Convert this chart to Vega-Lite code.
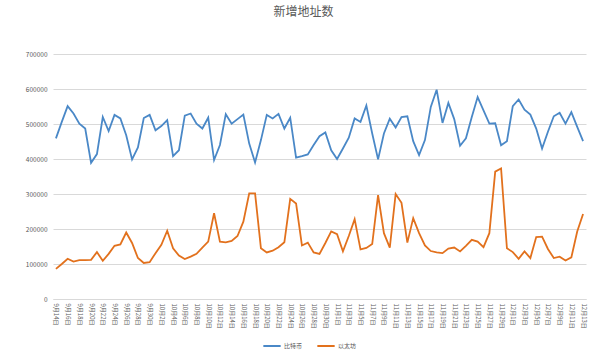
{
  "$schema": "https://vega.github.io/schema/vega-lite/v6.json",
  "autosize": "none",
  "width": 533,
  "height": 245,
  "padding": {"left": 53, "top": 54, "right": 14, "bottom": 57},
  "background": "white",
  "config": {
    "view": {"stroke": null},
    "font": "Noto Sans CJK SC"
  },
  "title": {
    "text": "新增地址数",
    "fontSize": 12,
    "fontWeight": "normal",
    "color": "#595959",
    "font": "Noto Sans CJK SC",
    "anchor": "middle",
    "dx": -16,
    "offset": 32
  },
  "data": {
    "values": [
      {"d":"9月14日","比特币":459000,"以太坊":86000},
      {"d":"9月15日","比特币":506000,"以太坊":100000},
      {"d":"9月16日","比特币":551000,"以太坊":115000},
      {"d":"9月17日","比特币":530000,"以太坊":107000},
      {"d":"9月18日","比特币":501000,"以太坊":111000},
      {"d":"9月19日","比特币":487000,"以太坊":111000},
      {"d":"9月20日","比特币":389000,"以太坊":112000},
      {"d":"9月21日","比特币":414000,"以太坊":134000},
      {"d":"9月22日","比特币":520000,"以太坊":109000},
      {"d":"9月23日","比特币":480000,"以太坊":129000},
      {"d":"9月24日","比特币":526000,"以太坊":152000},
      {"d":"9月25日","比特币":516000,"以太坊":156000},
      {"d":"9月26日","比特币":468000,"以太坊":190000},
      {"d":"9月27日","比特币":399000,"以太坊":160000},
      {"d":"9月28日","比特币":433000,"以太坊":117000},
      {"d":"9月29日","比特币":517000,"以太坊":103000},
      {"d":"9月30日","比特币":526000,"以太坊":105000},
      {"d":"10月1日","比特币":482000,"以太坊":131000},
      {"d":"10月2日","比特币":494000,"以太坊":155000},
      {"d":"10月3日","比特币":511000,"以太坊":195000},
      {"d":"10月4日","比特币":408000,"以太坊":145000},
      {"d":"10月5日","比特币":425000,"以太坊":124000},
      {"d":"10月6日","比特币":524000,"以太坊":114000},
      {"d":"10月7日","比特币":530000,"以太坊":121000},
      {"d":"10月8日","比特币":501000,"以太坊":129000},
      {"d":"10月9日","比特币":487000,"以太坊":147000},
      {"d":"10月10日","比特币":518000,"以太坊":164000},
      {"d":"10月11日","比特币":397000,"以太坊":245000},
      {"d":"10月12日","比特币":440000,"以太坊":164000},
      {"d":"10月13日","比特币":528000,"以太坊":162000},
      {"d":"10月14日","比特币":501000,"以太坊":166000},
      {"d":"10月15日","比特币":514000,"以太坊":180000},
      {"d":"10月16日","比特币":527000,"以太坊":221000},
      {"d":"10月17日","比特币":444000,"以太坊":302000},
      {"d":"10月18日","比特币":390000,"以太坊":302000},
      {"d":"10月19日","比特币":454000,"以太坊":145000},
      {"d":"10月20日","比特币":526000,"以太坊":133000},
      {"d":"10月21日","比特币":516000,"以太坊":138000},
      {"d":"10月22日","比特币":529000,"以太坊":148000},
      {"d":"10月23日","比特币":487000,"以太坊":162000},
      {"d":"10月24日","比特币":518000,"以太坊":286000},
      {"d":"10月25日","比特币":404000,"以太坊":273000},
      {"d":"10月26日","比特币":408000,"以太坊":153000},
      {"d":"10月27日","比特币":413000,"以太坊":161000},
      {"d":"10月28日","比特币":440000,"以太坊":133000},
      {"d":"10月29日","比特币":465000,"以太坊":129000},
      {"d":"10月30日","比特币":476000,"以太坊":160000},
      {"d":"10月31日","比特币":425000,"以太坊":193000},
      {"d":"11月1日","比特币":400000,"以太坊":185000},
      {"d":"11月2日","比特币":430000,"以太坊":136000},
      {"d":"11月3日","比特币":461000,"以太坊":180000},
      {"d":"11月4日","比特币":516000,"以太坊":228000},
      {"d":"11月5日","比特币":506000,"以太坊":142000},
      {"d":"11月6日","比特币":553000,"以太坊":146000},
      {"d":"11月7日","比特币":473000,"以太坊":157000},
      {"d":"11月8日","比特币":399000,"以太坊":297000},
      {"d":"11月9日","比特币":473000,"以太坊":188000},
      {"d":"11月10日","比特币":515000,"以太坊":147000},
      {"d":"11月11日","比特币":490000,"以太坊":300000},
      {"d":"11月12日","比特币":520000,"以太坊":275000},
      {"d":"11月13日","比特币":522000,"以太坊":161000},
      {"d":"11月14日","比特币":451000,"以太坊":231000},
      {"d":"11月15日","比特币":411000,"以太坊":188000},
      {"d":"11月16日","比特币":454000,"以太坊":153000},
      {"d":"11月17日","比特币":549000,"以太坊":137000},
      {"d":"11月18日","比特币":598000,"以太坊":133000},
      {"d":"11月19日","比特币":503000,"以太坊":131000},
      {"d":"11月20日","比特币":560000,"以太坊":144000},
      {"d":"11月21日","比特币":514000,"以太坊":147000},
      {"d":"11月22日","比特币":438000,"以太坊":136000},
      {"d":"11月23日","比特币":459000,"以太坊":152000},
      {"d":"11月24日","比特币":520000,"以太坊":169000},
      {"d":"11月25日","比特币":577000,"以太坊":164000},
      {"d":"11月26日","比特币":539000,"以太坊":148000},
      {"d":"11月27日","比特币":501000,"以太坊":188000},
      {"d":"11月28日","比特币":502000,"以太坊":364000},
      {"d":"11月29日","比特币":439000,"以太坊":373000},
      {"d":"11月30日","比特币":451000,"以太坊":145000},
      {"d":"12月1日","比特币":551000,"以太坊":134000},
      {"d":"12月2日","比特币":570000,"以太坊":115000},
      {"d":"12月3日","比特币":541000,"以太坊":136000},
      {"d":"12月4日","比特币":527000,"以太坊":117000},
      {"d":"12月5日","比特币":487000,"以太坊":177000},
      {"d":"12月6日","比特币":430000,"以太坊":178000},
      {"d":"12月7日","比特币":478000,"以太坊":143000},
      {"d":"12月8日","比特币":522000,"以太坊":117000},
      {"d":"12月9日","比特币":532000,"以太坊":121000},
      {"d":"12月10日","比特币":501000,"以太坊":110000},
      {"d":"12月11日","比特币":534000,"以太坊":119000},
      {"d":"12月12日","比特币":492000,"以太坊":193000},
      {"d":"12月13日","比特币":451000,"以太坊":243000}
    ]
  },
  "transform": [
    {"fold": ["比特币", "以太坊"], "as": ["series", "value"]}
  ],
  "mark": {"type": "line", "strokeWidth": 1.8},
  "encoding": {
    "x": {
      "field": "d",
      "type": "ordinal",
      "sort": null,
      "scale": {"type": "point", "padding": 0.5},
      "title": null,
      "axis": {
        "values": ["9月14日","9月16日","9月18日","9月20日","9月22日","9月24日","9月26日","9月28日","9月30日","10月2日","10月4日","10月6日","10月8日","10月10日","10月12日","10月14日","10月16日","10月18日","10月20日","10月22日","10月24日","10月26日","10月28日","10月30日","11月1日","11月3日","11月5日","11月7日","11月9日","11月11日","11月13日","11月15日","11月17日","11月19日","11月21日","11月23日","11月25日","11月27日","11月29日","12月1日","12月3日","12月5日","12月7日","12月9日","12月11日","12月13日"],
        "labelAngle": 90,
        "labelAlign": "left",
        "labelBaseline": "middle",
        "labelFontSize": 6,
        "labelColor": "#595959",
        "labelPadding": 4,
        "ticks": false,
        "domain": true,
        "domainColor": "#d9d9d9",
        "grid": false
      }
    },
    "y": {
      "field": "value",
      "type": "quantitative",
      "scale": {"domain": [0, 700000]},
      "title": null,
      "axis": {
        "values": [0,100000,200000,300000,400000,500000,600000,700000],
        "format": "d",
        "labelFontSize": 6.5,
        "labelColor": "#595959",
        "labelPadding": 6,
        "ticks": false,
        "domain": false,
        "grid": true,
        "gridColor": "#d9d9d9",
        "gridWidth": 1
      }
    },
    "color": {
      "field": "series",
      "type": "nominal",
      "sort": ["比特币", "以太坊"],
      "scale": {"domain": ["比特币", "以太坊"], "range": ["#4a88c7", "#e2711d"]},
      "legend": {
        "title": null,
        "orient": "none",
        "direction": "horizontal",
        "legendX": 209,
        "legendY": 282,
        "symbolType": "stroke",
        "symbolStrokeWidth": 2,
        "symbolSize": 300,
        "labelFontSize": 6,
        "labelColor": "#595959",
        "labelOffset": 2,
        "columnPadding": 10
      }
    }
  }
}
